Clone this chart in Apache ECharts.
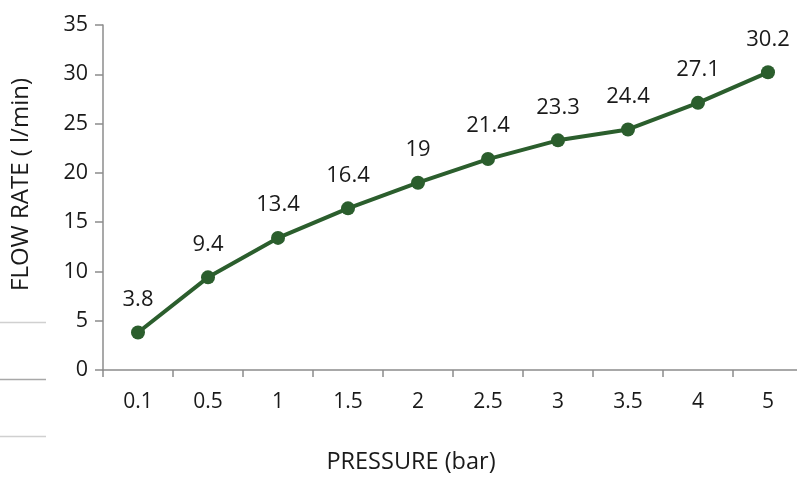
<!DOCTYPE html>
<html><head><meta charset="utf-8">
<script src="https://cdn.jsdelivr.net/npm/echarts@6/dist/echarts.min.js"></script>
<style>html,body{margin:0;padding:0;background:#fff;overflow:hidden}#c{width:812px;height:479px}</style>
</head><body><div id="c"></div>
<script>
const categories = ['0.1','0.5','1','1.5','2','2.5','3','3.5','4','5'];
const flowRate = [3.8, 9.4, 13.4, 16.4, 19, 21.4, 23.3, 24.4, 27.1, 30.2];
const yTicks = [0, 35, 5];
const font = '"Open Sans", "Noto Sans", sans-serif';
const chart = echarts.init(document.getElementById('c'), null, {renderer:'canvas', width: 812, height: 479});
chart.setOption({
  animation: false,
  grid: {left: 103, top: 25, width: 700, height: 350, containLabel: false},
  xAxis: {
    type: 'category', data: categories, boundaryGap: true,
    name: 'PRESSURE (bar)', nameLocation: 'middle', nameGap: 80,
    nameTextStyle: {fontFamily: font, fontSize: 23.5, color: '#1a1a1a', padding: [0, 84, 0, 0]},
    axisLine: {lineStyle: {color: '#8c8c8c', width: 1.5}},
    axisTick: {show: true, length: 7, lineStyle: {color: '#8c8c8c', width: 1.5}, alignWithLabel: false},
    axisLabel: {fontFamily: font, fontSize: 21, color: '#1a1a1a', margin: 22}
  },
  yAxis: {
    type: 'value', min: yTicks[0], max: yTicks[1], interval: yTicks[2],
    name: 'FLOW RATE ( l/min)', nameLocation: 'middle', nameGap: 70, nameRotate: 90,
    nameTextStyle: {fontFamily: font, fontSize: 24, color: '#1a1a1a', padding: [0, 0, 0, 26]},
    axisLine: {show: true, lineStyle: {color: '#8c8c8c', width: 1.5}},
    axisTick: {show: true, inside: false, length: 8, lineStyle: {color: '#8c8c8c', width: 1.5}},
    splitLine: {show: false},
    axisLabel: {fontFamily: font, fontSize: 21.5, color: '#1a1a1a', margin: 15}
  },
  series: [{
    type: 'line', data: flowRate,
    lineStyle: {color: '#2b5e2d', width: 4},
    itemStyle: {color: '#2b5e2d'},
    symbol: 'circle', symbolSize: 14,
    label: {show: true, position: 'top', distance: 15, fontFamily: font, fontSize: 22, color: '#1a1a1a'}
  }],
  graphic: [
    {type: 'line', shape: {x1: 0, y1: 322.5, x2: 46, y2: 322.5}, style: {stroke: '#d0d0d0', lineWidth: 1.5}},
    {type: 'line', shape: {x1: 0, y1: 379.5, x2: 46, y2: 379.5}, style: {stroke: '#a8a8a8', lineWidth: 1.5}},
    {type: 'line', shape: {x1: 0, y1: 436.5, x2: 46, y2: 436.5}, style: {stroke: '#d0d0d0', lineWidth: 1.5}}
  ]
});
</script></body></html>
